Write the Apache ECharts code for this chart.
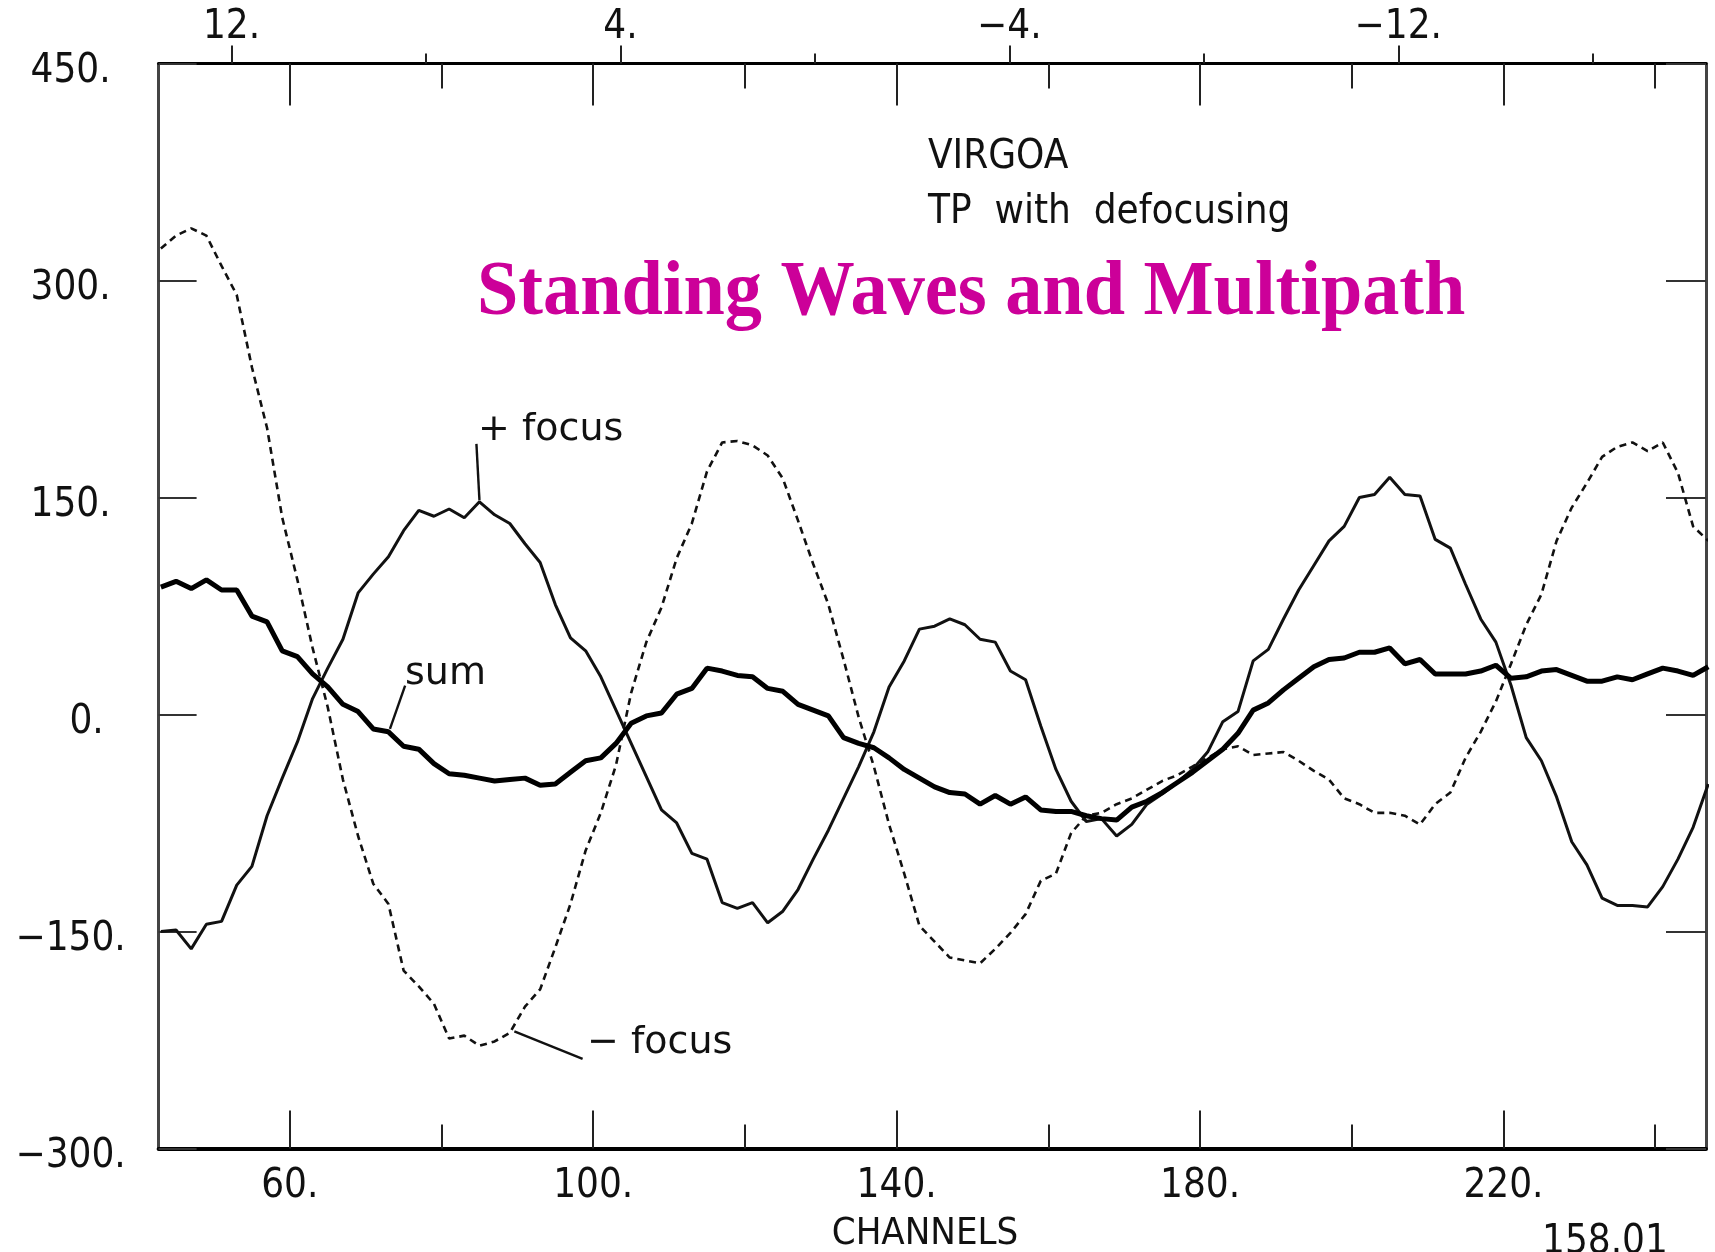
<!DOCTYPE html>
<html>
<head>
<meta charset="utf-8">
<script src="https://cdn.jsdelivr.net/npm/echarts@6/dist/echarts.min.js"></script>
<style>
    html, body { margin: 0; padding: 0; background: #fff; }
    #chart { width: 1715px; height: 1252px; }
</style>
</head>
<body>
<div id="chart"></div>
<script>
// channel grid (every 2nd channel)
var channels = [];
for (var c = 43; c <= 247; c += 2) channels.push(c);

// - focus (dashed)
var minusFocus = [
    322, 331, 336, 331, 310, 290, 240, 198, 136, 93,
    46, 5, -45, -84, -117, -131, -177, -188, -200, -224,
    -222, -229, -226, -220, -202, -190, -161, -131, -94, -68,
    -35, 15, 50, 74, 108, 132, 168, 188, 189, 186,
    179, 163, 134, 104, 76, 38, -2, -36, -76, -110,
    -146, -157, -168, -170, -172, -162, -151, -138, -115, -110,
    -82, -70, -68, -62, -58, -52, -46, -42, -36, -30,
    -24, -22, -28, -27, -26, -32, -39, -45, -58, -62,
    -68, -68, -70, -76, -62, -54, -30, -12, 9, 35,
    62, 83, 120, 143, 160, 178, 185, 188, 182, 188,
    167, 130, 120
];

// + focus (thin solid)
var plusFocus = [
    -150, -149, -162, -145, -143, -118, -105, -70, -44, -19,
    11, 32, 52, 84, 97, 109, 127, 141, 137, 142,
    136, 147, 138, 132, 118, 105, 76, 53, 44, 26,
    3, -20, -43, -66, -75, -96, -100, -130, -134, -130,
    -144, -136, -121, -100, -80, -58, -36, -12, 19, 37,
    59, 61, 66, 62, 52, 50, 30, 24, -8, -38,
    -60, -74, -72, -84, -76, -62, -55, -47, -38, -26,
    -5, 2, 37, 45, 66, 86, 103, 120, 130, 150,
    152, 164, 152, 151, 121, 115, 90, 66, 50, 20,
    -16, -32, -57, -88, -104, -127, -132, -132, -133, -119,
    -100, -78, -48
];

// sum (thick solid)
var sumSignal = [
    88, 92, 87, 93, 86, 86, 68, 64, 44, 40,
    28, 19, 7, 2, -10, -12, -22, -24, -34, -41,
    -42, -44, -46, -45, -44, -49, -48, -40, -32, -30,
    -20, -6, -1, 1, 14, 18, 32, 30, 27, 26,
    18, 16, 7, 3, -1, -16, -20, -23, -30, -38,
    -44, -50, -54, -55, -62, -56, -62, -57, -66, -67,
    -67, -70, -72, -73, -64, -60, -54, -47, -40, -32,
    -24, -13, 3, 8, 17, 25, 33, 38, 39, 43,
    43, 46, 35, 38, 28, 28, 28, 30, 34, 25,
    26, 30, 31, 27, 23, 23, 26, 24, 28, 32,
    30, 27, 33
];

// tick values
var majorTicks = [60, 100, 140, 180, 220];
var minorTicks = [80, 120, 160, 200, 240];
var topLabelTicks = [12, 4, -4, -12];
var topShortTicks = [8, 0, -8, -16];

// leader lines of the curve labels (data units)
var plusLeader = [[84.6, 187], [85.0, 148]];
var sumLeader = [[73.2, -10], [75.2, 20]];
var minusLeader = [[89.6, -219], [98.6, -238]];

var COND = '"DejaVu Sans Condensed", "Liberation Sans Narrow", "DejaVu Sans", sans-serif';
var SANS = '"DejaVu Sans", Verdana, sans-serif';

function fmt(v) {
    return (v < 0 ? '\u2212' + Math.abs(v) : String(v)) + '.';
}

function pairs(arr) {
    return channels.map(function (ch, i) { return [ch, arr[i]]; });
}

function leader(seg) {
    return {
        symbol: 'none',
        silent: true,
        label: { show: false },
        lineStyle: { type: 'solid', color: '#111', width: 2.4 },
        data: [[{ coord: seg[0] }, { coord: seg[1] }]]
    };
}

function xAx(pos, range, ticks, len, inside, lineW, label) {
    return {
        type: 'value',
        position: pos,
        min: range[0],
        max: range[1],
        inverse: range[2] || false,
        axisLine: { show: lineW > 0, onZero: false, lineStyle: { color: '#000', width: lineW } },
        axisTick: { show: true, inside: inside, length: len, customValues: ticks,
                    lineStyle: { color: '#222', width: 2 } },
        axisLabel: label || { show: false },
        splitLine: { show: false }
    };
}

var chRange = [42.7, 246.7];
var topRange = [-18.33, 13.5, true];
var labelStyle = { fontFamily: COND, fontSize: 40, color: '#111' };

var chart = echarts.init(document.getElementById('chart'));

chart.setOption({
    animation: false,
    backgroundColor: '#fff',
    grid: { left: 158.6, right: 9, top: 63.4, bottom: 103.5, containLabel: false, outerBoundsMode: 'none' },
    xAxis: [
        xAx('bottom', chRange, majorTicks, 38, true, 4,
            Object.assign({ show: true, customValues: majorTicks, formatter: fmt, margin: 18 }, labelStyle)),
        xAx('bottom', chRange, minorTicks, 24, true, 0),
        xAx('top', chRange, majorTicks, 42, true, 3),
        xAx('top', chRange, minorTicks, 25, true, 0),
        xAx('top', topRange, topLabelTicks, 18, false, 0,
            Object.assign({ show: true, customValues: topLabelTicks, formatter: fmt, margin: 16 }, labelStyle)),
        xAx('top', topRange, topShortTicks, 10, false, 0)
    ],
    yAxis: [
        {
            type: 'value', position: 'left', min: -300, max: 450, interval: 150,
            axisLine: { show: true, onZero: false, lineStyle: { color: '#444', width: 3 } },
            axisTick: { show: true, inside: true, length: 38, lineStyle: { color: '#333', width: 2 } },
            axisLabel: {
                formatter: function (v) { return (v === 0 ? '{z|' : '{n|') + fmt(v) + '}'; },
                align: 'center', verticalAlign: 'top', margin: 88,
                rich: {
                    n: { fontFamily: COND, fontSize: 40, color: '#111', lineHeight: 16 },
                    z: { fontFamily: COND, fontSize: 40, color: '#111', lineHeight: 16, padding: [0, 0, 0, 32] }
                }
            },
            splitLine: { show: false }
        },
        {
            type: 'value', position: 'right', min: -300, max: 450, interval: 150,
            axisLine: { show: true, onZero: false, lineStyle: { color: '#444', width: 3 } },
            axisTick: { show: true, inside: true, length: 40, lineStyle: { color: '#333', width: 2 } },
            axisLabel: { show: false },
            splitLine: { show: false }
        }
    ],
    series: [
        {
            type: 'line', name: '- focus', data: pairs(minusFocus),
            symbol: 'none', clip: true,
            lineStyle: { color: '#111', width: 2.6, type: [7, 5] },
            markLine: leader(minusLeader)
        },
        {
            type: 'line', name: '+ focus', data: pairs(plusFocus),
            symbol: 'none', clip: true,
            lineStyle: { color: '#111', width: 3 },
            markLine: leader(plusLeader)
        },
        {
            type: 'line', name: 'sum', data: pairs(sumSignal),
            symbol: 'none', clip: true,
            lineStyle: { color: '#000', width: 5 },
            markLine: leader(sumLeader)
        }
    ],
    graphic: [
        { type: 'text', x: 928, y: 158,
          style: { text: 'VIRGOA', fontFamily: COND, fontSize: 40, fill: '#111', align: 'left', verticalAlign: 'middle' } },
        { type: 'text', x: 928, y: 213,
          style: { text: 'TP  with  defocusing', fontFamily: COND, fontSize: 40, fill: '#111', align: 'left', verticalAlign: 'middle' } },
        { type: 'text', x: 477, y: 294, scaleX: 0.94,
          style: { text: 'Standing Waves and Multipath', fontFamily: '"Liberation Serif", "Times New Roman", serif',
                   fontWeight: 'bold', fontSize: 79, fill: '#cc0099', align: 'left', verticalAlign: 'middle' } },
        { type: 'text', x: 478, y: 430,
          style: { text: '+ focus', fontFamily: SANS, fontSize: 38, fill: '#111', align: 'left', verticalAlign: 'middle' } },
        { type: 'text', x: 405, y: 674,
          style: { text: 'sum', fontFamily: SANS, fontSize: 38, fill: '#111', align: 'left', verticalAlign: 'middle' } },
        { type: 'text', x: 587, y: 1043,
          style: { text: '\u2212 focus', fontFamily: SANS, fontSize: 38, fill: '#111', align: 'left', verticalAlign: 'middle' } },
        { type: 'text', x: 925, y: 1234,
          style: { text: 'CHANNELS', fontFamily: COND, fontSize: 38, fill: '#111', align: 'center', verticalAlign: 'middle' } },
        { type: 'text', x: 1542, y: 1243,
          style: { text: '158.01', fontFamily: COND, fontSize: 40, fill: '#111', align: 'left', verticalAlign: 'middle' } }
    ]
});
</script>
</body>
</html>
